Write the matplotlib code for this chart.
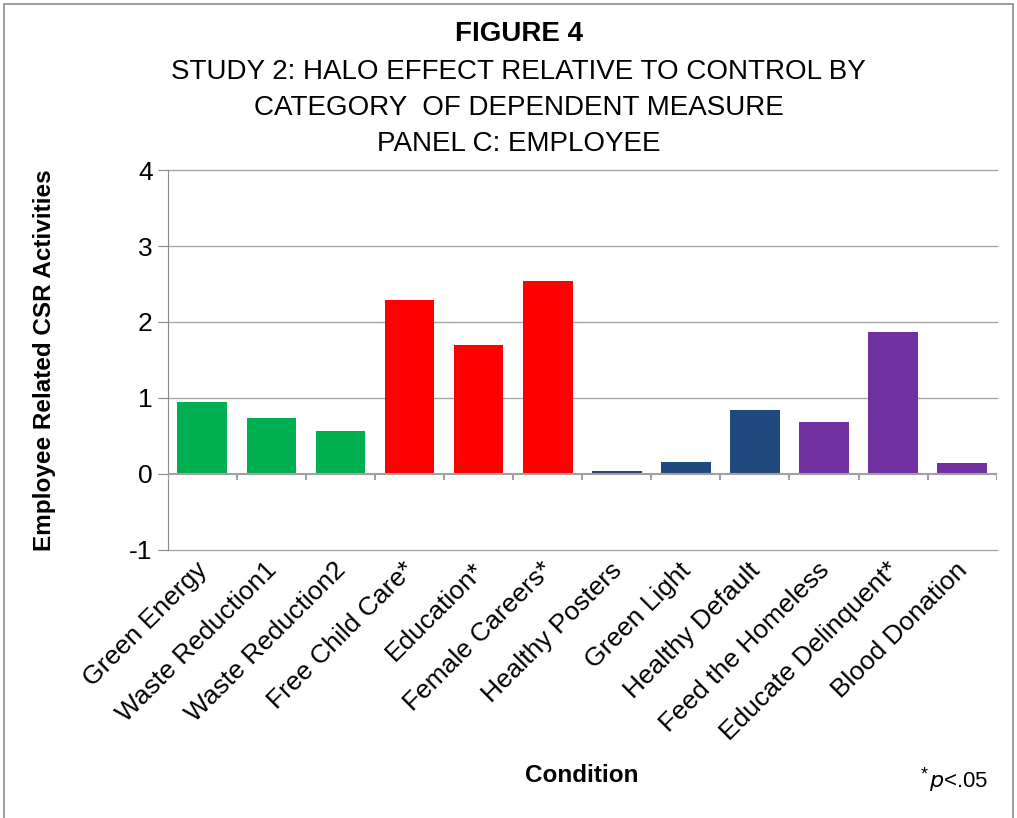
import matplotlib
matplotlib.use("Agg")
import matplotlib.pyplot as plt
from matplotlib.patches import Rectangle
from matplotlib.transforms import ScaledTranslation

plt.rcParams['font.family'] = ['Liberation Sans', 'DejaVu Sans']

conditions = ['Green Energy', 'Waste Reduction1', 'Waste Reduction2',
              'Free Child Care*', 'Education*', 'Female Careers*',
              'Healthy Posters', 'Green Light', 'Healthy Default',
              'Feed the Homeless', 'Educate Delinquent*', 'Blood Donation']
halo_effect = [0.95, 0.73, 0.56, 2.29, 1.70, 2.54, 0.04, 0.15, 0.84, 0.68, 1.87, 0.14]
groups = ['green', 'green', 'green', 'red', 'red', 'red',
          'blue', 'blue', 'blue', 'purple', 'purple', 'purple']
group_colors = {'green': '#00B050', 'red': '#FF0000',
                'blue': '#1F497D', 'purple': '#7030A0'}
y_ticks = [-1, 0, 1, 2, 3, 4]

fig = plt.figure(figsize=(10.17, 8.18), dpi=100)
ax = fig.add_axes([0.165, 0.328, 0.815, 0.464])

x = list(range(len(conditions)))
ax.bar(x, halo_effect, width=0.72, color=[group_colors[g] for g in groups], zorder=3)

ax.set_xlim(-0.5, len(conditions) - 0.5)
ax.set_ylim(-1, 4)
ax.set_yticks(y_ticks)
ax.set_yticklabels([str(t) for t in y_ticks], fontsize=19)
ax.tick_params(axis='y', length=7, color='#888888', pad=4)
for t in y_ticks:
    if t != 0:
        ax.axhline(t, color='#A6A6A6', lw=1.0, zorder=1, clip_on=False)

# category axis sits on zero, with separator ticks between bars
ax.axhline(0, color='#A0A0A0', lw=1.5, zorder=4)
ax.vlines([i + 0.5 for i in range(-1, len(conditions))], -0.08, 0,
          color='#A0A0A0', lw=1.5, zorder=4)

ax.set_xticks(x)
ax.set_xticklabels(conditions, rotation=45, ha='right', rotation_mode='anchor',
                   fontsize=19)
ax.tick_params(axis='x', length=0, pad=6)
shift = ScaledTranslation(-7 / 100, 0, fig.dpi_scale_trans)
for lbl in ax.get_xticklabels():
    lbl.set_transform(lbl.get_transform() + shift)

for side in ['top', 'right', 'bottom']:
    ax.spines[side].set_visible(False)
ax.spines['left'].set_color('#888888')

ax.set_ylabel('Employee Related CSR Activities', fontsize=17.5, fontweight='bold')
ax.yaxis.set_label_coords(-0.135, 0.5)
fig.text(0.572, 0.052, 'Condition', ha='center', va='center',
         fontsize=17.5, fontweight='bold')
fig.text(0.905, 0.052, '*', ha='left', va='center', fontsize=13)
fig.text(0.913, 0.045, r'$p$<.05', ha='left', va='center', fontsize=16)

fig.text(0.51, 0.959, 'FIGURE 4', ha='center', va='center',
         fontsize=20, fontweight='bold')
title_lines = ['STUDY 2: HALO EFFECT RELATIVE TO CONTROL BY',
               'CATEGORY  OF DEPENDENT MEASURE',
               'PANEL C: EMPLOYEE']
for i, line in enumerate(title_lines):
    fig.text(0.51, 0.912 - i * 0.044, line, ha='center', va='center', fontsize=20)

fig.patches.append(Rectangle((0.004, -0.01), 0.992, 1.005, transform=fig.transFigure,
                             fill=False, edgecolor='#8C8C8C', lw=1.2))

fig.savefig('out.png', dpi=100)
